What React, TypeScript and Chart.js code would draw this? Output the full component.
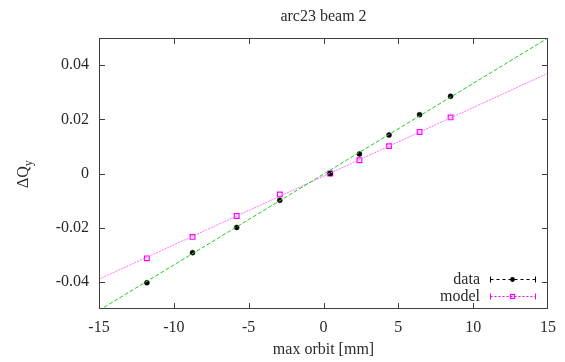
import React, { useEffect, useRef } from 'react';
import { Chart, registerables } from 'chart.js';
Chart.register(...registerables);

const orbitX = [-11.8, -8.75, -5.8, -2.92, 0.45, 2.4, 4.38, 6.42, 8.49];
const dataY = [-0.0403, -0.0292, -0.0199, -0.0099, 0.0, 0.0072, 0.0142, 0.0217, 0.0285];
const modelY = [-0.0313, -0.0234, -0.0157, -0.0077, 0.0, 0.0049, 0.0101, 0.0153, 0.0207];
const dataFitX = [-15, 15];
const dataFitY = [-0.0505, 0.05];
const modelFitX = [-15, 15];
const modelFitY = [-0.039, 0.037];
const xTicks = [-15, -10, -5, 0, 5, 10, 15];
const yTicks = [-0.04, -0.02, 0, 0.02, 0.04];
const yTickLabels = ['-0.04', '-0.02', '0', '0.02', '0.04'];
const titleText = 'arc23 beam 2';
const xTitle = 'max orbit [mm]';
const legendLabels = ['data', 'model'];

const FONT = '"Liberation Serif", "Times New Roman", serif';
const TEXT = '#2a2a2a';
const FRAME = '#404040';

const pts = (xs: number[], ys: number[]) => xs.map((x, i) => ({ x, y: ys[i] }));

const overlay = {
  id: 'gnuplotOverlay',
  afterDraw(chart: any) {
    const { ctx, chartArea } = chart;
    const { left, right, top, bottom } = chartArea;
    const xs = chart.scales.x;
    const ys = chart.scales.y;
    ctx.save();
    ctx.strokeStyle = FRAME;
    ctx.lineWidth = 1;
    ctx.setLineDash([]);
    ctx.strokeRect(left + 0.5, top + 0.5, right - left - 1, bottom - top - 1);
    const tl = 6;
    ctx.beginPath();
    xTicks.forEach((v) => {
      const px = Math.round(xs.getPixelForValue(v)) + 0.5;
      if (px <= left + 1 || px >= right - 1) return;
      ctx.moveTo(px, bottom);
      ctx.lineTo(px, bottom - tl);
      ctx.moveTo(px, top);
      ctx.lineTo(px, top + tl);
    });
    yTicks.forEach((v) => {
      const py = Math.round(ys.getPixelForValue(v)) + 0.5;
      ctx.moveTo(left, py);
      ctx.lineTo(left + tl, py);
      ctx.moveTo(right, py);
      ctx.lineTo(right - tl, py);
    });
    ctx.stroke();

    // title
    ctx.fillStyle = TEXT;
    ctx.font = `16px ${FONT}`;
    ctx.textAlign = 'center';
    ctx.textBaseline = 'alphabetic';
    ctx.fillText(titleText, (left + right) / 2, 21);

    // y-axis title with subscript
    ctx.save();
    ctx.translate(28, 188);
    ctx.rotate(-Math.PI / 2);
    ctx.textAlign = 'left';
    ctx.font = `16px ${FONT}`;
    ctx.fillText('ΔQ', 0, 0);
    const w = ctx.measureText('ΔQ').width;
    ctx.font = `12px ${FONT}`;
    ctx.fillText('y', w, 4);
    ctx.restore();

    // legend
    ctx.font = `16px ${FONT}`;
    ctx.textAlign = 'right';
    ctx.fillText(legendLabels[0], 480, 283.5);
    ctx.fillText(legendLabels[1], 480, 300.5);
    const x0 = 490.5, x1 = 535.5, xc = 512.5;
    const rows = [
      { y: 279.5, color: '#000000', dash: [3, 3] },
      { y: 296.5, color: '#ff00ff', dash: [2, 2] },
    ];
    rows.forEach((r, i) => {
      ctx.strokeStyle = r.color;
      ctx.lineWidth = 1;
      ctx.setLineDash(r.dash);
      ctx.beginPath();
      ctx.moveTo(x0, r.y);
      ctx.lineTo(x1, r.y);
      ctx.stroke();
      ctx.setLineDash([]);
      ctx.beginPath();
      ctx.moveTo(x0, r.y - 3);
      ctx.lineTo(x0, r.y + 3);
      ctx.moveTo(x1, r.y - 3);
      ctx.lineTo(x1, r.y + 3);
      ctx.stroke();
      if (i === 0) {
        ctx.fillStyle = '#000';
        ctx.beginPath();
        ctx.arc(xc, r.y, 2.4, 0, Math.PI * 2);
        ctx.fill();
      } else {
        ctx.strokeStyle = '#ff00ff';
        ctx.lineWidth = 1.2;
        ctx.strokeRect(xc - 2, r.y - 2, 4, 4);
      }
    });
    ctx.restore();
  },
};

export default function App() {
  const ref = useRef<HTMLCanvasElement | null>(null);
  useEffect(() => {
    document.body.style.margin = '0';
    const canvas = ref.current;
    if (!canvas) return;
    const chart = new Chart(canvas, {
      type: 'scatter',
      data: {
        datasets: [
          {
            label: 'data fit',
            data: pts(dataFitX, dataFitY),
            showLine: true,
            borderColor: '#22cc22',
            borderWidth: 1,
            borderDash: [4, 2],
            pointRadius: 0,
            order: 0,
          },
          {
            label: 'model fit',
            data: pts(modelFitX, modelFitY),
            showLine: true,
            borderColor: '#ff70ff',
            borderWidth: 1,
            borderDash: [2, 1],
            pointRadius: 0,
            order: 1,
          },
          {
            label: 'model',
            data: pts(orbitX, modelY),
            showLine: false,
            pointStyle: 'rect',
            pointRadius: 3.3,
            borderColor: '#ff00ff',
            backgroundColor: 'rgba(255,255,255,0)',
            pointBorderWidth: 1.2,
            order: 3,
          },
          {
            label: 'data',
            data: pts(orbitX, dataY),
            showLine: false,
            pointStyle: 'circle',
            pointRadius: 2.5,
            borderColor: '#000000',
            backgroundColor: '#000000',
            pointBorderWidth: 0.5,
            order: 2,
          },
        ],
      },
      options: {
        responsive: false,
        animation: false,
        devicePixelRatio: 1,
        layout: { padding: { top: 38, right: 11, left: 0, bottom: 0 } },
        plugins: { legend: { display: false }, tooltip: { enabled: false }, title: { display: false } },
        scales: {
          x: {
            type: 'linear',
            min: -15,
            max: 15,
            grid: { display: false, drawTicks: false },
            border: { display: false },
            afterBuildTicks: (s: any) => {
              s.ticks = xTicks.map((v) => ({ value: v }));
            },
            afterFit: (s: any) => {
              s.height = 53;
            },
            ticks: {
              padding: 9,
              color: TEXT,
              font: { family: FONT, size: 16 },
              maxRotation: 0,
              autoSkip: false,
              callback: (v: any) => String(v),
            },
            title: {
              display: true,
              text: xTitle,
              color: TEXT,
              font: { family: FONT, size: 16 },
              padding: { top: 0, bottom: 3 },
            },
          },
          y: {
            type: 'linear',
            min: -0.05,
            max: 0.05,
            grid: { display: false, drawTicks: false },
            border: { display: false },
            afterBuildTicks: (s: any) => {
              s.ticks = yTicks.map((v) => ({ value: v }));
            },
            afterFit: (s: any) => {
              s.width = 99;
            },
            ticks: {
              padding: 10,
              color: TEXT,
              font: { family: FONT, size: 16 },
              autoSkip: false,
              callback: (v: any) => {
                const i = yTicks.findIndex((t) => Math.abs(t - v) < 1e-9);
                return i >= 0 ? yTickLabels[i] : '';
              },
            },
          },
        },
      },
      plugins: [overlay],
    } as any);
    return () => chart.destroy();
  }, []);
  return (
    <div style={{ width: 565, height: 362, background: '#fff' }}>
      <canvas ref={ref} width={565} height={362} style={{ display: 'block' }} />
    </div>
  );
}
